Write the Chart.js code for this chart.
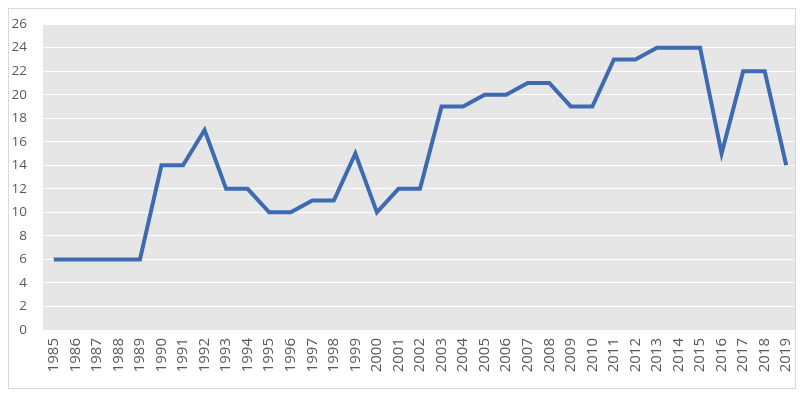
<!DOCTYPE html>
<html><head><meta charset="utf-8">
<script src="https://cdn.jsdelivr.net/npm/chart.js@4/dist/chart.umd.min.js"></script>
<style>html,body{margin:0;padding:0;background:#fff}#w{width:800px;height:398px}</style>
</head><body><div id="w"><canvas id="c" width="800" height="398"></canvas></div>
<script>
const years = ["1985","1986","1987","1988","1989","1990","1991","1992","1993","1994","1995","1996","1997","1998","1999","2000","2001","2002","2003","2004","2005","2006","2007","2008","2009","2010","2011","2012","2013","2014","2015","2016","2017","2018","2019"];
const values = [6,6,6,6,6,14,14,17,12,12,10,10,11,11,15,10,12,12,19,19,20,20,21,21,19,19,23,23,24,24,24,15,22,22,14];
const yTicks = {min:0, max:26, step:2};

const frame = {
  id:'frame',
  beforeDraw(chart){
    const {ctx, chartArea:a} = chart;
    ctx.save();
    ctx.fillStyle='#fff'; ctx.fillRect(0,0,chart.width,chart.height);
    ctx.fillStyle='#e7e6e6';
    ctx.fillRect(a.left, a.top, Math.min(a.right,795)-a.left, a.bottom-a.top);
    ctx.restore();
  },
  afterDraw(chart){
    const ctx=chart.ctx; ctx.save();
    ctx.strokeStyle='#d9d9d9'; ctx.lineWidth=1;
    ctx.strokeRect(8.5,8.5,787,380);
    ctx.restore();
  }
};

new Chart(document.getElementById('c'), {
  type:'line',
  data:{labels:years, datasets:[{data:values, borderColor:'#3e6ab1', borderWidth:4, pointRadius:0, tension:0, fill:false, borderJoinStyle:'miter'}]},
  options:{
    responsive:false, animation:false, devicePixelRatio:1,
    layout:{padding:{top:21,right:3,bottom:0,left:0}},
    plugins:{legend:{display:false}, tooltip:{enabled:false}},
    scales:{
      x:{offset:true, grid:{display:false, drawTicks:false}, border:{display:false},
        ticks:{minRotation:90, maxRotation:90, autoSkip:false, padding:8, color:'#595959', font:{family:'Open Sans', size:15}},
        afterFit(s){s.height=68; s.paddingLeft=0; s.paddingRight=0;}},
      y:{min:yTicks.min, max:yTicks.max, grid:{color:'#ffffff', lineWidth:1, drawTicks:false}, border:{display:false},
        ticks:{stepSize:yTicks.step, padding:16, color:'#595959', font:{family:'Open Sans', size:13.5}},
        afterFit(s){s.width=43;}}
    }
  },
  plugins:[frame]
});
</script></body></html>
